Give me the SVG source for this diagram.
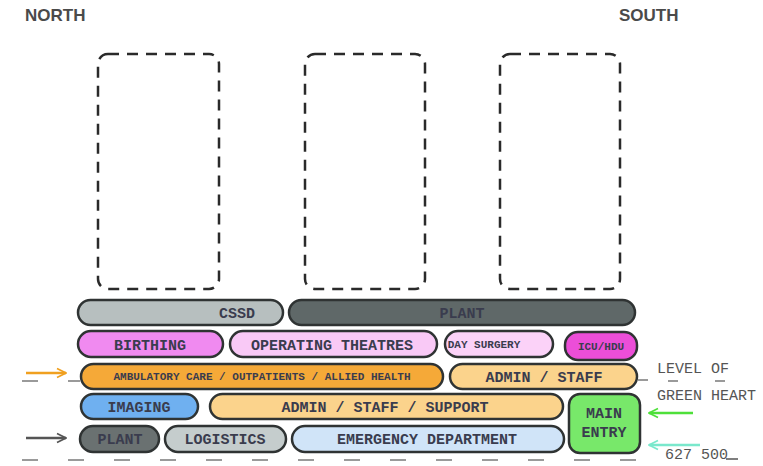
<svg xmlns="http://www.w3.org/2000/svg" width="763" height="466" viewBox="0 0 763 466">
<defs>
<style>
.pill{stroke:#2f3333;stroke-width:2.5}
.lbl{font-family:"Liberation Mono","DejaVu Sans Mono",monospace;font-weight:bold;font-size:15px;fill:#3a3c4e;text-anchor:middle}
.sm{font-size:11px}
.dash{fill:none;stroke:#2a2a2a;stroke-width:2.5;stroke-dasharray:11 8}
.gline{stroke:#9a9a9a;stroke-width:2;stroke-dasharray:16 30;fill:none}
.note{font-family:"Liberation Mono","DejaVu Sans Mono",monospace;font-size:15px;fill:#555}
.dir{font-family:"Liberation Sans",Arial,sans-serif;font-weight:bold;font-size:17px;fill:#4a4a4a}
</style>
<marker id="ahO" viewBox="0 0 10 10" refX="9" refY="5" markerWidth="4.5" markerHeight="5.5" orient="auto"><path d="M1 1 L9 5 L1 9" fill="none" stroke="#f0a020" stroke-width="1.5"/></marker>
<marker id="ahD" viewBox="0 0 10 10" refX="9" refY="5" markerWidth="4.5" markerHeight="5.5" orient="auto"><path d="M1 1 L9 5 L1 9" fill="none" stroke="#555" stroke-width="1.5"/></marker>
<marker id="ahG" viewBox="0 0 10 10" refX="9" refY="5" markerWidth="4.5" markerHeight="5.5" orient="auto"><path d="M1 1 L9 5 L1 9" fill="none" stroke="#4ee03a" stroke-width="1.5"/></marker>
<marker id="ahT" viewBox="0 0 10 10" refX="9" refY="5" markerWidth="4.5" markerHeight="5.5" orient="auto"><path d="M1 1 L9 5 L1 9" fill="none" stroke="#7ae8cc" stroke-width="1.5"/></marker>
</defs>
<rect width="763" height="466" fill="#ffffff"/>
<text class="dir" x="25" y="21">NORTH</text>
<text class="dir" x="619" y="21">SOUTH</text>
<g id="towers">
<rect class="dash" x="98" y="54" width="121" height="235" rx="10"/>
<rect class="dash" x="305" y="54" width="120" height="235" rx="10"/>
<rect class="dash" x="500" y="54" width="120" height="235" rx="10"/>
</g>
<g id="connectors">
<path class="gline" d="M22 460 H650"/>
<path d="M22 381 H38 M68 381 H80" stroke="#9a9a9a" stroke-width="2" fill="none"/>
<path d="M638 380 H648 M668 381 H678 M715 381 H725" stroke="#9a9a9a" stroke-width="2" fill="none"/>
<path d="M26 373 H66" stroke="#f0a020" stroke-width="2.5" fill="none" marker-end="url(#ahO)"/>
<path d="M26 438 H66" stroke="#555" stroke-width="2.5" fill="none" marker-end="url(#ahD)"/>
<path d="M693 413 H649" stroke="#4ee03a" stroke-width="2.5" fill="none" marker-end="url(#ahG)"/>
<path d="M700 445 H649" stroke="#7ae8cc" stroke-width="2.5" fill="none" marker-end="url(#ahT)"/>
</g>
<g id="cssd"><rect class="pill" x="78" y="300" width="205" height="25" rx="12.5" fill="#b7bfbf"/><text class="lbl" x="237" y="318">CSSD</text></g>
<g id="plant-top"><rect class="pill" x="289" y="300" width="346" height="25" rx="12.5" fill="#5f6868"/><text class="lbl" x="462" y="318">PLANT</text></g>
<g id="birthing"><rect class="pill" x="78" y="331" width="145" height="26" rx="13" fill="#f08af0"/><text class="lbl" x="150" y="350">BIRTHING</text></g>
<g id="operating"><rect class="pill" x="230" y="331" width="207" height="26" rx="13" fill="#f9c9f6"/><text class="lbl" x="332" y="350">OPERATING THEATRES</text></g>
<g id="daysurgery"><rect class="pill" x="445" y="331" width="108" height="26" rx="13" fill="#fbd2f8"/><text class="lbl sm" x="484" y="348">DAY SURGERY</text></g>
<g id="icu"><rect class="pill" x="565" y="332" width="72" height="28" rx="13" fill="#ec4ed8"/><text class="lbl sm" x="601" y="350">ICU/HDU</text></g>
<g id="ambulatory"><rect class="pill" x="81" y="364" width="362" height="25" rx="12.5" fill="#f5a938"/><text class="lbl sm" x="262" y="380">AMBULATORY CARE / OUTPATIENTS / ALLIED HEALTH</text></g>
<g id="adminstaff"><rect class="pill" x="450" y="364" width="187" height="25" rx="12.5" fill="#fbd38c"/><text class="lbl" x="544" y="382">ADMIN / STAFF</text></g>
<g id="imaging"><rect class="pill" x="81" y="394" width="117" height="25" rx="12.5" fill="#6fb0f0"/><text class="lbl" x="139" y="412">IMAGING</text></g>
<g id="adminsupport"><rect class="pill" x="210" y="394" width="353" height="25" rx="12.5" fill="#fbd38c"/><text class="lbl" x="385" y="412">ADMIN / STAFF / SUPPORT</text></g>
<g id="plant-bottom"><rect class="pill" x="80" y="426" width="79" height="26" rx="13" fill="#6a7171"/><text class="lbl" x="120" y="444">PLANT</text></g>
<g id="logistics"><rect class="pill" x="165" y="426" width="121" height="26" rx="13" fill="#c5cdcd"/><text class="lbl" x="225" y="444">LOGISTICS</text></g>
<g id="emergency"><rect class="pill" x="292" y="426" width="272" height="26" rx="13" fill="#d0e4f8"/><text class="lbl" x="427" y="444">EMERGENCY DEPARTMENT</text></g>
<g id="mainentry"><rect class="pill" x="569" y="394" width="71" height="59" rx="11" fill="#78e86a"/><text class="lbl" x="604" y="418">MAIN</text><text class="lbl" x="604" y="437">ENTRY</text></g>
<g id="notes">
<text class="note" x="657" y="373">LEVEL OF</text>
<text class="note" x="657" y="400">GREEN HEART</text>
<text class="note" x="665" y="459">627 500</text>
<path d="M726 459 H738" stroke="#555" stroke-width="1.5"/>
</g>
</svg>
